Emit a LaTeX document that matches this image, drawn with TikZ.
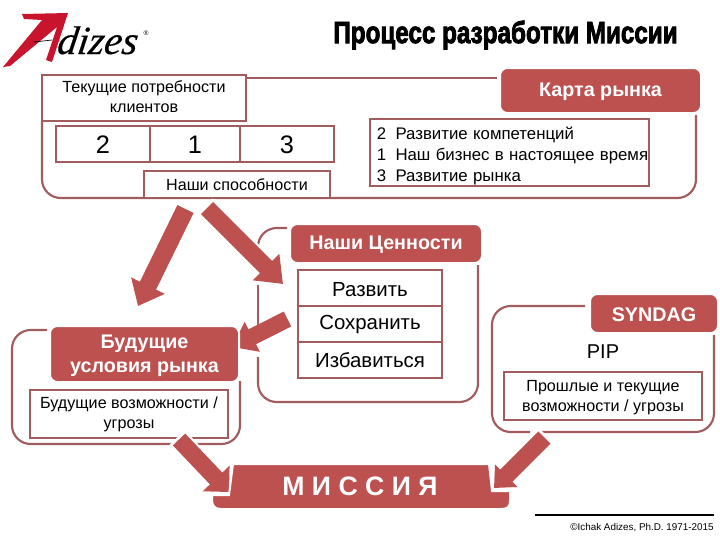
\documentclass[tikz,border=0pt]{standalone}
\usepackage{fontspec}
\usepackage{graphicx}
\setmainfont{Liberation Sans}
\newfontfamily\titlefont[BoldFeatures={FakeBold=3}]{Liberation Sans}
\newfontfamily\logofont[ItalicFeatures={FakeSlant=0.15,FakeBold=0.4}]{Liberation Serif}
\usetikzlibrary{arrows.meta}
\definecolor{framec}{HTML}{A25C5D}
\definecolor{blockc}{HTML}{BC5150}
\definecolor{logored}{HTML}{C8142D}
\newcommand{\fsz}[1]{\fontsize{#1}{#1}\selectfont}
\newcommand{\dn}[2]{\raisebox{-#1pt}[\height][\depth]{#2}}
\tikzset{
  x=0.75pt,y=-0.75pt,
  frameline/.style={draw=framec,line width=1.6pt,rounded corners=14pt},
  wh/.style 2 args={minimum width=#1*0.75pt,minimum height=#2*0.75pt},
  boxn/.style={draw=framec,line width=1.5pt,fill=white,inner sep=0pt,outer sep=0pt,align=center,text=black,font=\fsz{12.1}},
  rowbox/.style={boxn,wh={144}{36},font=\fsz{15.3}},
  digitbox/.style={boxn,font=\fsz{19}},
  head/.style={fill=blockc,draw=white,line width=1.5pt,rounded corners=5.5pt,inner sep=0pt,text=white,align=center,font=\bfseries\fsz{14.8}},
  bigarrow/.style n args={3}{draw=blockc,line width=#1pt,-{Triangle[length=#2pt,width=#3pt]}},
  halo/.style={draw=white,line width=#1pt,shorten <=-2pt,shorten >=22pt},
}
\begin{document}
\begin{tikzpicture}
\useasboundingbox (0,0) rectangle (720,540);
% logo
\fill[logored] (22,14) -- (68,13) -- (52,62) -- (46,60) -- (57,27) -- (10,66) -- (3,67) -- (42,20) -- (24,19) -- cycle;
\draw[black,line width=.5pt] (34,42) -- (52,40);
\node[inner sep=0pt,anchor=base west] (logotext) at (56,54) {\logofont\itshape\fsz{30}dizes};
\node[inner sep=0pt] (logomark) at (146,33) {\fsz{5}®};
% title
\node[inner sep=0pt] (title) at (505.5,35) {\titlefont\bfseries\scalebox{0.79}[1]{\fsz{23}Процесс разработки Миссии}};
% frames
\draw[frameline] (246,78) -- (497,78);
\draw[frameline] (696,115) -- (696,198) -- (216,198);
\draw[frameline] (211,198) -- (42,198) -- (42,121);
\draw[frameline] (287,228) -- (258,228) -- (258,243);
\draw[draw=framec,line width=1.6pt] (258,285) -- (258,329);
\draw[frameline] (258,357) -- (258,402) -- (478,402) -- (478,265);
\draw[frameline] (47,330) -- (12,330) -- (12,444) -- (172,444);
\draw[frameline] (195,444) -- (240,444) -- (240,381);
\draw[frameline] (585,306) -- (492,306) -- (492,432) -- (530,432);
\draw[frameline] (541,432) -- (714,432) -- (714,335);
% boxes
\node[boxn,wh={204}{46}] (need) at (144,98) {\dn{0.7}{\begin{tabular}{@{}c@{}}Текущие потребности\\[3pt]клиентов\end{tabular}}};
\node[digitbox,wh={94}{36}] (c2) at (103,144) {\dn{0.7}{2}};
\node[digitbox,wh={90}{36}] (c1) at (195,144) {\dn{0.7}{1}};
\node[digitbox,wh={94}{36}] (c3) at (287,144) {\dn{0.7}{3}};
\node[boxn,wh={186}{27}] (caps) at (237,184.5) {Наши способности};
\node[boxn,wh={279}{67},text width=205pt,align=left] (list) at (509.5,152.5) {\hspace*{3pt}\fontsize{12.6}{15.7}\selectfont\dn{3}{\begin{tabular}{@{}l@{\hspace{7pt}}l@{}}2&Развитие компетенций\\1&Наш бизнес в настоящее время\\3&Развитие рынка\end{tabular}}};
\node[head,wh={201}{45}] (market) at (600.5,90.5) {\dn{1.3}{Карта рынка}};
\node[rowbox] (r1) at (370,288) {\dn{1.2}{Развить}};
\node[rowbox] (r2) at (370,324) {\dn{0.7}{Сохранить}};
\node[rowbox] (r3) at (370,360) {Избавиться};
\node[boxn,wh={198}{48}] (future) at (129,414) {\dn{0.7}{\begin{tabular}{@{}c@{}}Будущие возможности /\\[3pt]угрозы\end{tabular}}};
\node[boxn,wh={198}{48}] (past) at (603,396) {\dn{1.8}{\begin{tabular}{@{}c@{}}Прошлые и текущие\\[3pt]возможности / угрозы\end{tabular}}};
\node[inner sep=0pt,text=black,font=\fsz{15}] (pip) at (603,352) {PIP};
% block arrows
\coordinate (aTail) at (185.5,209); \coordinate (aTip) at (138,306);
\coordinate (bTail) at (207,208);   \coordinate (bTip) at (283,284);
\coordinate (cTail) at (287.5,319); \coordinate (cTip) at (232,347);
\coordinate (dTail) at (179,439.5); \coordinate (dTip) at (229,492);
\coordinate (eTail) at (544.5,437.5); \coordinate (eTip) at (494,488);
\draw[halo=16] (aTail) -- (aTip);
\draw[halo=16] (bTail) -- (bTip);
\draw[halo=16] (dTail) -- (dTip);
\draw[halo=16] (eTail) -- (eTip);
\draw[bigarrow={13.5}{17}{27}] (aTail) -- (aTip);
\draw[bigarrow={12.8}{18}{27}] (bTail) -- (bTip);
\draw[bigarrow={12.5}{17}{24}] (cTail) -- (cTip);
\draw[bigarrow={12.8}{14}{27}] (dTail) -- (dTip);
\draw[bigarrow={12.8}{13}{23}] (eTail) -- (eTip);
% heads drawn over the arrows
\node[head,wh={189}{56}] (fut) at (144.5,354) {\dn{2}{\begin{tabular}{@{}c@{}}Будущие\\[3pt]условия рынка\end{tabular}}};
\node[head,wh={192}{39}] (values) at (386,243.5) {\dn{1.2}{Наши Ценности}};
\node[head,wh={128}{39}] (syndag) at (654,313.5) {\dn{0.7}{SYNDAG}};
% mission block
\path[fill=blockc,draw=white,line width=1.5pt]
  (233,464) -- (489,464) -- (492,491) -- (510,491) -- (510,501)
  .. controls (510,507) and (507,509) .. (501,509) -- (221,509)
  .. controls (215,509) and (212,506) .. (212,500) -- (212,495) -- (229,495) -- cycle;
\node[inner sep=0pt,text=white,font=\bfseries\fsz{20}] (mission) at (360,486) {М И С С И Я};
% footer
\coordinate (ruleL) at (535,515); \coordinate (ruleR) at (714,515);
\draw[black,line width=.8pt] (ruleL) -- (ruleR);
\node[inner sep=0pt,text=black,font=\fsz{7.4}] (credit) at (642,528) {©Ichak Adizes, Ph.D. 1971-2015};
\end{tikzpicture}
\end{document}
